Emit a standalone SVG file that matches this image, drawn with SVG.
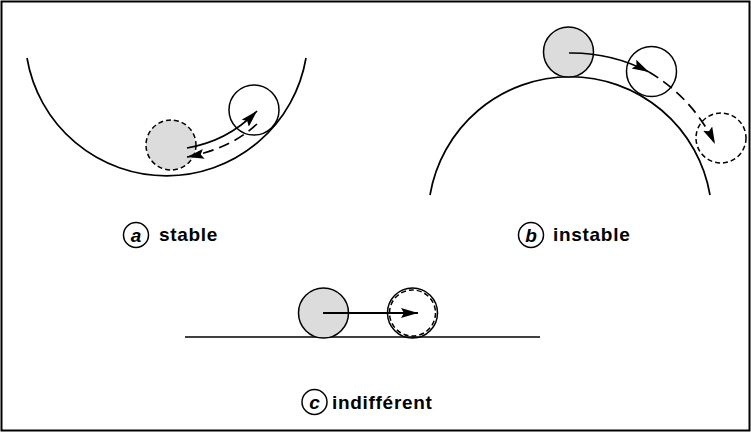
<svg xmlns="http://www.w3.org/2000/svg" width="751" height="432" viewBox="0 0 751 432">
<style>
.ln{fill:none;stroke:#000;stroke-width:1.7}
.ds{stroke-dasharray:11 6}
.ball{fill:#dcdcdc;stroke:#000;stroke-width:1.5}
.open{fill:none;stroke:#000;stroke-width:1.5}
.dball{fill:none;stroke:#000;stroke-width:1.5;stroke-dasharray:5 3}
.lbl{font-family:"Liberation Sans",Arial,sans-serif;font-weight:bold;font-size:19px;letter-spacing:0.7px;fill:#000}
.let{font-family:"Liberation Sans",Arial,sans-serif;font-weight:bold;font-style:italic;font-size:19px;fill:#000;text-anchor:middle}
</style>
<defs>
<marker id="ah" markerUnits="userSpaceOnUse" markerWidth="18" markerHeight="12" refX="17" refY="5" orient="auto">
<path d="M0,0 L17,5 L0,10 L3,5 z" fill="#000"/>
</marker>
</defs>
<rect x="1.5" y="1.5" width="748" height="429" fill="#fff" stroke="#000" stroke-width="2"/>
<g id="surface-a"><path class="ln" d="M27 58 A141.5 141.5 0 0 0 306 58"/></g>
<g id="surface-b"><path class="ln" d="M430 195 A142 142 0 0 1 710 195"/></g>
<g id="surface-c"><path class="ln" d="M185 337 H540"/></g>
<g id="ball-a1"><circle class="dball" cx="171" cy="145" r="25" style="fill:#dcdcdc"/></g>
<g id="ball-a2"><circle class="open" cx="254" cy="110" r="25"/></g>
<g id="ball-b1"><circle class="ball" cx="568.5" cy="52" r="25"/></g>
<g id="ball-b2"><circle class="open" cx="651.5" cy="71.5" r="25"/></g>
<g id="ball-b3"><circle class="dball" cx="721" cy="138" r="25"/></g>
<g id="ball-c1"><circle class="ball" cx="323.5" cy="313" r="25"/></g>
<g id="ball-c2"><circle class="open" cx="412.5" cy="313" r="25"/><circle class="dball" cx="412.5" cy="313" r="23"/></g>
<g id="connectors">
<path class="ln" d="M187 148 Q228 141 257 111" marker-end="url(#ah)"/>
<path class="ln ds" d="M257 124 Q230 149 187 157" marker-end="url(#ah)"/>
<path class="ln" d="M569 53 A167 167 0 0 1 649 72" marker-end="url(#ah)"/>
<path class="ln ds" d="M649 72 A167 167 0 0 1 715 144" marker-end="url(#ah)"/>
<path class="ln" style="stroke-width:2" d="M323 313 H418" marker-end="url(#ah)"/>
</g>
<g id="label-a">
<circle class="open" cx="136" cy="235" r="12.5"/>
<text class="let" x="136" y="241.5">a</text>
<text class="lbl" x="159" y="241">stable</text>
</g>
<g id="label-b">
<circle class="open" cx="531" cy="235" r="12.5"/>
<text class="let" x="531" y="241.5">b</text>
<text class="lbl" x="553" y="241">instable</text>
</g>
<g id="label-c">
<circle class="open" cx="314.5" cy="402" r="12.5"/>
<text class="let" x="314.5" y="408.5">c</text>
<text class="lbl" x="332" y="409">indifférent</text>
</g>
</svg>
